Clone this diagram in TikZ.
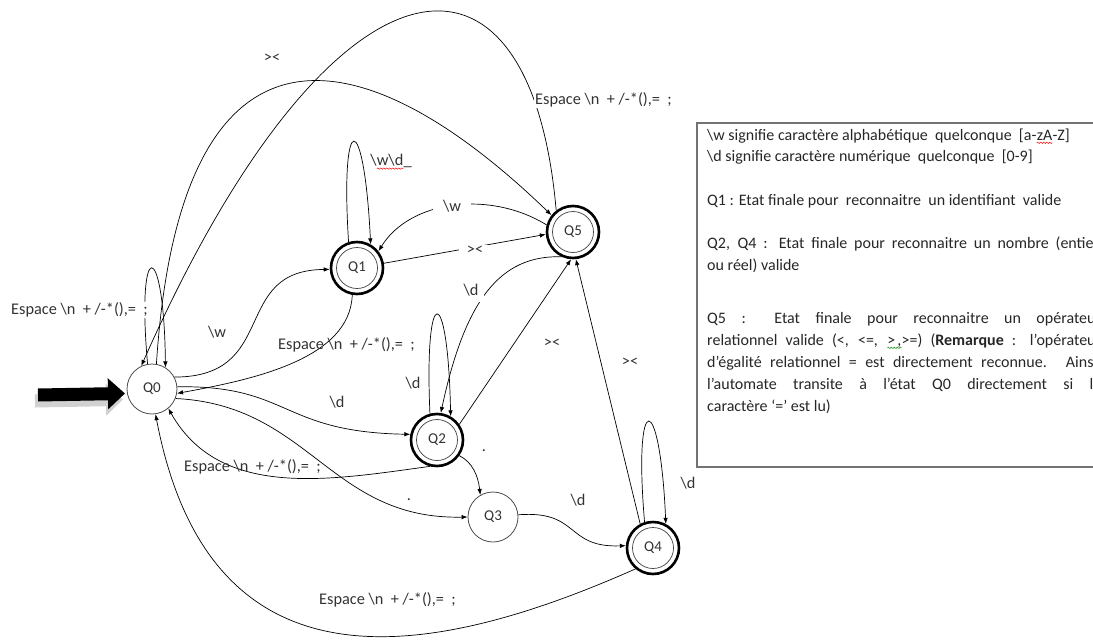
\documentclass[tikz,border=0pt]{standalone}
\usepackage{fontspec}
\setmainfont{Carlito}
\usepackage{tikz}
\usetikzlibrary{positioning, arrows.meta, calc, decorations.pathmorphing}

% soulignement ondule du correcteur
\newcommand\wavyunder[2]{\tikz[baseline=(m.base)]{\node[inner sep=0pt, outer sep=0pt] (m) {#2};
	\draw[#1, line width=0.5pt, decorate, decoration={snake, amplitude=0.7pt, segment length=3pt}] ([yshift=-2.8pt]m.base west) -- ([yshift=-2.8pt]m.base east);}}

\newcommand\etatfont{\fontsize{15}{17}\selectfont}
\newcommand\lblfont{\fontsize{16.3}{19}\selectfont}
\newcommand\legfont{\fontsize{16}{20}\selectfont}
\newcommand\sep{Espace \textbackslash n~~+ /-*(),=~ ;}

\tikzset{etat/.style={circle, draw=black!70, line width=0.8pt, minimum size=50pt, inner sep=0pt, font=\etatfont, text=black!80}}
\tikzset{final/.style={etat, draw=black, line width=2.6pt, minimum size=52pt,
	path picture={\draw[line width=0.7pt, black!75] (path picture bounding box.center) circle (20.5pt);}}}
\tikzset{trans/.style={draw, -{Latex[length=6pt,width=4.5pt]}, line width=0.7pt}}
\tikzset{lbl/.style={font=\lblfont, text=black!80, inner sep=1pt}}
\tikzset{lblw/.style={lbl, fill=white}}
\tikzset{legende/.style={font=\legfont, text=black!85, inner sep=0pt, anchor=base west}}

\begin{document}
\begin{tikzpicture}[x=1pt, y=-1pt]
	\useasboundingbox (0,0) rectangle (1093,640);
	\clip (0,0) rectangle (1093,640);

	\node[etat] (Q0) at (152,389) {Q0};
	\node[final] (Q1) at (357,268) {Q1};
	\node[final] (Q5) at (573,232) {Q5};
	\node[final] (Q2) at (437,440) {Q2};
	\node[etat] (Q3) at (493,517) {Q3};
	\node[final] (Q4) at (653,548) {Q4};

	% etat initial
	\coordinate (depart) at (38,395);
	\draw[line width=13pt, black!18, -{Triangle[length=17pt,width=31pt]}] ($(depart)+(-3,6)$) -- ($(Q0.190)+(-4,6)$);
	\draw[line width=13pt, -{Triangle[length=17pt,width=30pt]}, shorten >=2pt] (depart) -- (Q0.190);

	% boucles
	\draw[trans] (Q0.100) .. controls (136,236) and (164,236) .. (Q0.58);
	\draw[trans] (Q1.108) .. controls (340,108) and (364,108) .. (Q1.60);
	\draw[trans] (Q2.105) .. controls (424,281) and (448,281) .. (Q2.60);
	\draw[trans] (Q4.108) .. controls (633,388) and (660,388) .. (Q4.62);

	% depuis Q0
	\draw[trans] (Q0.28) .. controls (280,377) and (230,270) .. (Q1.183);
	\draw[trans] (Q0.5) .. controls (290,385) and (280,432) .. (Q2.168);
	\draw[trans] (Q0.-22) .. controls (310,405) and (330,520) .. (Q3.180);
	\draw[trans] (Q0.80) .. controls (180,0) and (360,30) .. (Q5.142);

	% retours vers Q0
	\draw[trans] (Q5.128) .. controls (530,-90) and (330,-60) .. (Q0.115);
	\draw[trans] (Q1.260) .. controls (350,360) and (250,380) .. (Q0.-10);
	\draw[trans] (Q2.255) .. controls (330,480) and (220,500) .. (Q0.-50);
	\draw[trans] (Q4.230) .. controls (430,660) and (210,700) .. (Q0.-82);

	% autour de Q5
	\draw[trans] (Q1.10) -- (Q5.185);
	\draw[trans] (Q5.165) .. controls (490,190) and (410,200) .. (Q1.38);
	\draw[trans] (Q5.245) .. controls (500,255) and (465,300) .. (Q2.82);
	\draw[trans] (Q2.35) -- (Q5.266);
	\draw[trans] (Q4.118) -- (Q5.276);

	\draw[trans] (Q2.-35) .. controls (472,462) and (478,475) .. (Q3.120);
	\draw[trans] (Q3.5) .. controls (580,510) and (565,548) .. (Q4.175);

	% etiquettes
	\node[lblw, anchor=west] (esp0) at (10,310) {\sep};
	\node[lbl] (w01) at (217,332) {\textbackslash w};
	\node[lbl, anchor=west] (esp1) at (277,345) {\sep};
	\node[lbl] (d02) at (337,402) {\textbackslash d};
	\node[lbl, anchor=west] (esp2) at (183,467) {\sep};
	\node[lbl] (pt03) at (409,500) {.};
	\node[lbl] (pt23) at (484,451) {.};
	\node[lbl] (d34) at (578,500) {\textbackslash d};
	\node[lbl] (d44) at (688,483) {\textbackslash d};
	\node[lbl, anchor=west] (esp4) at (318,600) {\sep};
	\node[lblw, anchor=west] (esp5) at (534,100) {\sep};
	\node[lbl] (op05) at (272,58) {><};
	\node[lblw, inner xsep=8pt] (op15) at (475,250) {><};
	\node[lblw, inner xsep=10pt] (w51) at (452,206) {\textbackslash w};
	\node[lblw, inner sep=6pt] (d52) at (471,290) {\textbackslash d};
	\node[lbl] (op25) at (552,343) {><};
	\node[lbl] (op45) at (630,362) {><};
	\node[lbl] (d22) at (413,383) {\textbackslash d};
	\node[lbl] (wd11) at (391,162) {\textbackslash\wavyunder{red}{w\textbackslash d}\_};

	% legende
	\draw[draw=black!55, line width=1.3pt] (697,123) rectangle (1120,467);
	\node[legende] (l1) at (707,140) {\textbackslash w signifie caractère alphabétique~ quelconque~ [a-\wavyunder{red}{zA}-Z]};
	\node[legende] (l2) at (707,161) {\textbackslash d signifie caractère numérique~ quelconque~ [0-9]};
	\node[legende] (l3) at (707,205) {Q1 : Etat finale pour~ reconnaitre~ un identifiant~ valide};
	\node[legende] (l4) at (707,248) {\makebox[392pt][s]{Q2, Q4 : Etat finale pour reconnaitre un nombre (entier}};
	\node[legende] (l5) at (707,270) {ou réel) valide};
	\node[legende] (l6) at (707,323) {\makebox[394pt][s]{Q5 : Etat finale pour reconnaitre un opérateur}};
	\node[legende] (l7) at (707,345) {\makebox[394pt][s]{relationnel valide (<, <=, \wavyunder{green!55!black}{>\kern2pt,}>=) (\textbf{Remarque} : l’opérateur}};
	\node[legende] (l8) at (707,367) {\makebox[394pt][s]{d’égalité relationnel = est directement reconnue. Ainsi,}};
	\node[legende] (l9) at (707,389) {\makebox[394pt][s]{l’automate transite à l’état Q0 directement si le}};
	\node[legende] (l10) at (707,411) {caractère ‘=’ est lu)};
\end{tikzpicture}
\end{document}
